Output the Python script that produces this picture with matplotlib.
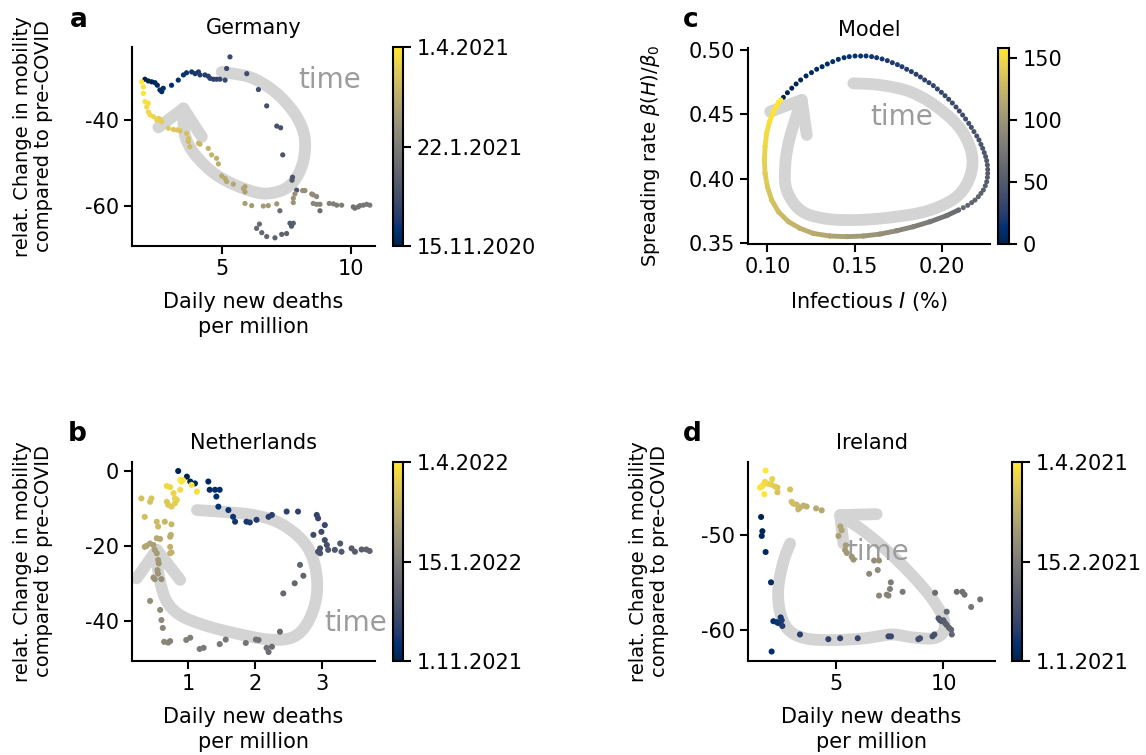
import numpy as np
import matplotlib
matplotlib.use('Agg')
import matplotlib.pyplot as plt
from matplotlib.collections import LineCollection
from matplotlib.colors import Normalize
from matplotlib.cm import ScalarMappable
from datetime import date

plt.rcParams['font.family'] = ['DejaVu Sans']
plt.rcParams['font.size'] = 15
plt.rcParams['mathtext.fontset'] = 'dejavusans'
plt.rcParams['axes.unicode_minus'] = False

# --- a: Germany (points in time order) ---
ger_x = [2.03, 2.16, 2.29, 2.42, 2.51, 2.61, 2.68, 2.74, 3.06, 3.32, 3.52, 3.64, 3.84, 3.97, 4.10, 4.16, 4.35,
         4.48, 4.55, 4.68, 4.80, 4.93, 5.13, 5.19, 5.32, 5.97, 6.42, 6.74, 7.13, 7.28, 7.36, 7.74, 7.72, 7.90,
         7.64, 7.70, 7.77, 7.51, 7.32, 7.06, 6.74, 6.55, 6.35, 6.46, 7.25, 8.80,
         10.09, 10.15, 10.28, 10.35, 10.48, 10.61, 10.73, 9.64, 9.45, 9.32, 9.16, 8.80, 8.67, 8.54,
         8.67, 8.54, 8.48, 8.22, 8.13, 7.83, 7.77, 7.77, 7.13, 6.80, 6.61, 6.16, 5.90, 5.90, 5.84, 5.90,
         5.45, 5.19, 5.13, 5.00, 4.87, 4.80, 4.61, 4.48, 4.16, 4.10, 3.77, 3.71, 3.71, 3.64, 3.39, 3.26,
         3.13, 2.94, 2.68, 2.61, 2.55, 2.49, 2.36, 2.23, 2.16, 2.10, 2.16, 2.03, 1.97, 1.97, 1.90]
ger_y = [-30.5, -30.9, -31.1, -31.3, -31.9, -33.0, -33.4, -32.6, -31.9, -30.7, -29.5, -29.0, -28.8, -29.2,
         -28.8, -29.5, -29.5, -29.8, -30.3, -30.5, -30.5, -30.5, -30.7, -28.0, -25.3, -29.2, -32.9, -36.7,
         -41.4, -41.8, -48.1, -53.3, -54.0, -56.3,
         -64.0, -64.7, -64.0, -66.4, -66.6, -67.4, -67.1, -66.2, -65.2, -64.2, -61.1, -61.1,
         -60.2, -60.5, -60.2, -59.9, -59.8, -59.6, -59.8, -59.8, -59.8, -59.5, -59.4, -59.6, -59.6, -59.4,
         -57.8, -57.4, -57.2, -56.4, -56.4, -57.2, -58.2, -59.2, -59.5, -59.9, -60.0, -59.9, -59.4, -56.7,
         -55.9, -55.5, -54.9, -54.3, -53.6, -53.0, -50.2, -48.9, -48.1, -46.6, -45.6, -45.4, -46.2, -45.0,
         -44.3, -43.1, -42.5, -42.3, -42.2, -41.9, -40.4, -39.8, -39.6, -40.0, -39.2, -38.8, -38.1, -36.9,
         -36.1, -35.7, -33.8, -32.3, -31.1]
ger_dates = [date(2020, 11, 15), date(2021, 1, 22), date(2021, 4, 1)]

# --- b: Netherlands ---
nl_x = [0.85, 0.98, 1.03, 1.10, 1.30, 1.32, 1.40, 1.47, 1.42, 1.45, 1.60, 1.67, 1.70, 1.87, 1.92, 2.02, 2.20,
        2.25, 2.47, 2.64, 2.92, 2.94, 3.04, 2.99, 2.87, 3.04, 3.07, 2.97, 2.94, 2.97, 3.09, 3.19, 3.27, 3.29,
        3.44, 3.49, 3.59, 3.66, 3.71,
        2.67, 2.72, 2.59, 2.42, 2.37, 2.25, 2.20, 2.17, 2.05, 2.01, 1.86, 1.56, 1.47, 1.23, 1.17, 1.03, 0.97,
        0.73, 0.70, 0.64, 0.62, 0.60, 0.58, 0.43, 0.60, 0.50, 0.48, 0.55, 0.54, 0.56, 0.55, 0.53, 0.50,
        0.48, 0.43, 0.38, 0.35, 0.53, 0.58, 0.73, 0.74, 0.73, 0.75, 0.73, 0.75, 0.65, 0.55, 0.53, 0.35,
        0.30, 0.43, 0.45, 0.68, 0.70, 0.75, 0.80, 0.83, 0.80, 0.78, 0.73, 0.68, 0.88, 1.13, 1.05, 0.90,
        0.92, 0.88]
nl_y = [-0.1, -1.6, -2.9, -3.4, -2.9, -5.1, -5.1, -5.1, -6.9, -9.6, -10.5, -12.3, -13.6, -13.6, -13.8,
        -13.1, -12.3, -11.8, -10.9, -10.9, -11.8, -12.7, -14.5, -16.3, -17.1, -18.5, -19.8, -20.7, -21.6,
        -22.0, -21.1, -21.1, -19.4, -21.6, -20.7, -21.6, -21.0, -21.0, -21.4,
        -25.1, -28.0, -30.0, -32.7, -42.9, -46.9, -48.3, -47.2, -45.1, -45.0, -45.9, -45.0, -46.2, -47.2,
        -47.5, -44.5, -45.1, -45.4, -45.8, -45.6, -41.9, -39.8, -37.1, -34.7, -28.9, -28.9, -28.5, -27.4,
        -26.5, -24.7, -23.8, -22.0, -21.1,
        -19.8, -19.4, -20.0, -20.3, -18.0, -18.2, -17.6, -17.1, -20.3, -21.8, -22.0, -14.3, -13.6, -14.9,
        -13.6, -12.3, -7.4, -8.3, -7.4, -8.3, -9.1, -9.6, -8.7, -7.8, -7.4, -6.0, -4.4, -4.1, -5.1, -5.6,
        -3.8, -2.9, -2.5, -2.5]
nl_dates = [date(2021, 11, 1), date(2022, 1, 15), date(2022, 4, 1)]

# --- c: Model (day, infectious %, spreading rate) ---
model_t = list(range(0, 63)) + [63, 70, 77, 84, 90, 96, 102, 107, 112, 117, 121, 125, 129, 133, 137,
                                 141, 144, 147, 150, 153, 155, 157, 158]
model_I = [0.1092, 0.1115, 0.1140, 0.1165, 0.1191, 0.1222, 0.1253, 0.1283, 0.1314, 0.1344, 0.1375, 0.1407,
           0.1440, 0.1470, 0.1503, 0.1535, 0.1566, 0.1598, 0.1627, 0.1658, 0.1688, 0.1717, 0.1746, 0.1772,
           0.1799, 0.1826, 0.1853, 0.1878, 0.1902, 0.1927, 0.1952, 0.1975, 0.1998, 0.2019, 0.2040, 0.2061,
           0.2082, 0.2101, 0.2120, 0.2137, 0.2155, 0.2170, 0.2185, 0.2201, 0.2214, 0.2225, 0.2235, 0.2244,
           0.2252, 0.2258, 0.2262, 0.2264, 0.2264, 0.2262, 0.2258, 0.2250, 0.2239, 0.2225, 0.2210, 0.2191,
           0.2172, 0.2149, 0.2124,
           0.2097, 0.2028, 0.1933, 0.1837, 0.1742, 0.1646, 0.1551, 0.1455, 0.1359, 0.1264, 0.1188, 0.1121,
           0.1063, 0.1025, 0.1000, 0.0987, 0.0983, 0.0987, 0.0996, 0.1012, 0.1035, 0.1063, 0.1077]
model_b = [0.4633, 0.4669, 0.4704, 0.4737, 0.4768, 0.4799, 0.4825, 0.4851, 0.4871, 0.4892, 0.4910, 0.4928,
           0.4941, 0.4949, 0.4954, 0.4954, 0.4954, 0.4949, 0.4941, 0.4931, 0.4918, 0.4902, 0.4887, 0.4871,
           0.4851, 0.4833, 0.4812, 0.4791, 0.4768, 0.4747, 0.4724, 0.4698, 0.4672, 0.4646, 0.4618, 0.4589,
           0.4558, 0.4527, 0.4496, 0.4465, 0.4431, 0.4400, 0.4367, 0.4333, 0.4302, 0.4268, 0.4237, 0.4204,
           0.4173, 0.4142, 0.4108, 0.4074, 0.4043, 0.4012, 0.3978, 0.3947, 0.3914, 0.3888, 0.3862, 0.3836,
           0.3816, 0.3795, 0.3777,
           0.3759, 0.3715, 0.3668, 0.3629, 0.3598, 0.3572, 0.3557, 0.3552, 0.3557, 0.3577, 0.3616, 0.3668,
           0.3746, 0.3836, 0.3940, 0.4043, 0.4147, 0.4250, 0.4354, 0.4444, 0.4522, 0.4592, 0.4613]

# --- d: Ireland ---
irl_x = [1.51, 1.57, 1.54, 1.72, 1.97, 2.00, 2.08, 2.24, 2.31, 2.42, 2.47, 2.50, 3.32, 4.64, 5.19, 6.01,
         7.44, 7.56, 8.83, 8.91, 9.49, 9.58,
         9.77, 9.84, 9.92, 10.00, 10.08, 10.15, 10.26, 10.36, 10.39, 10.15, 9.61,
         10.62, 10.88, 10.98, 11.71, 11.29, 8.10, 7.55, 7.51, 7.36, 7.44, 7.00, 6.54, 6.94, 6.77, 7.00,
         5.81, 5.73, 5.50, 5.42, 5.45,
         5.11, 5.26, 5.20, 4.33, 4.07, 3.63, 3.48, 3.32, 3.24, 3.17, 3.01, 2.93, 2.86,
         2.27, 2.27, 2.16, 2.00, 2.03, 1.85, 1.69, 1.61, 1.54, 1.46, 1.66, 1.72]
irl_y = [-48.1, -49.6, -50.1, -51.8, -55.0, -62.3, -59.1, -59.2, -59.3, -58.7, -59.0, -59.6, -60.5, -61.0,
         -60.9, -60.9, -60.7, -60.7, -61.0, -60.9, -60.7, -60.5,
         -58.8, -59.0, -59.1, -59.0, -59.3, -59.5, -59.8, -60.0, -60.5, -58.1, -56.1,
         -56.0, -56.0, -56.3, -56.8, -57.6, -56.0, -55.0, -55.7, -56.3, -56.4, -56.4, -54.1, -53.7, -52.7,
         -52.7,
         -52.6, -52.3, -51.9, -51.6, -51.1,
         -50.1, -49.5, -49.1, -47.4, -47.2, -47.0, -46.9, -47.1, -47.3, -46.8, -46.7, -46.5, -45.2,
         -45.5, -45.0, -44.9, -44.7, -44.1, -44.6, -44.4, -44.7, -44.9, -45.0, -45.7, -43.2]
irl_dates = [date(2021, 1, 1), date(2021, 2, 15), date(2021, 4, 1)]

W, H = 1146, 755
ARROW_C = '#d4d4d4'
TEXT_C = '#9c9c9c'


def rect(l, t, r, b):
    return [l / W, 1 - b / H, (r - l) / W, (b - t) / H]


def smooth(xs, ys, n=16):
    # catmull-rom through the guide points of the hand drawn arrow
    p = np.column_stack([xs, ys]).astype(float)
    p = np.vstack([p[0], p, p[-1]])
    out = []
    for i in range(1, len(p) - 2):
        p0, p1, p2, p3 = p[i - 1], p[i], p[i + 1], p[i + 2]
        for s in np.linspace(0, 1, n, endpoint=False):
            out.append(0.5 * (2 * p1 + (p2 - p0) * s + (2 * p0 - 5 * p1 + 4 * p2 - p3) * s ** 2
                              + (3 * p1 - p0 - 3 * p2 + p3) * s ** 3))
    out.append(p[-2])
    out = np.array(out)
    return out[:, 0], out[:, 1]


def time_arrow(ax, px, py, hx, hy, tx, ty):
    sx, sy = smooth(px, py)
    ax.plot(sx, sy, color=ARROW_C, lw=8.5, solid_capstyle='round', solid_joinstyle='round', zorder=1)
    ax.plot(hx, hy, color=ARROW_C, lw=8.5, solid_capstyle='round', solid_joinstyle='round', zorder=1)
    ax.text(tx, ty, 'time', fontsize=20, color=TEXT_C, ha='center', va='center', zorder=2)


def style(ax):
    for s in ['top', 'right']:
        ax.spines[s].set_visible(False)
    for s in ['left', 'bottom']:
        ax.spines[s].set_linewidth(1.5)
    ax.tick_params(length=6, width=1.5, labelsize=15)


def labels(ax, xl, yl, ylab_x, ylab_y=0.5):
    ax.set_xlabel(xl, linespacing=1.35, labelpad=9)
    ax.set_ylabel(yl, fontsize=14, linespacing=1.15)
    ax.yaxis.set_label_coords(ylab_x, ylab_y)


def date_cbar(fig, box, dates):
    cax = fig.add_axes(box)
    sm = ScalarMappable(norm=Normalize(0, 1), cmap='cividis')
    cb = fig.colorbar(sm, cax=cax)
    span = (dates[-1] - dates[0]).days
    cb.set_ticks([(d - dates[0]).days / span for d in dates])
    cb.set_ticklabels([f'{d.day}.{d.month}.{d.year}' for d in dates])
    cb.outline.set_linewidth(1.5)
    cax.tick_params(length=6, width=1.5, labelsize=15)
    return cb


fig = plt.figure(figsize=(W / 100, H / 100), dpi=100)

ylab = 'relat. Change in mobility\ncompared to pre-COVID'
xlab = 'Daily new deaths\nper million'

# panel a
ax = fig.add_axes(rect(132, 47, 375, 246))
style(ax)
time_arrow(ax, [5.00, 5.45, 6.22, 7.13, 7.90, 8.22, 8.09, 7.58, 6.74, 5.84, 4.80, 4.03, 3.64, 3.52, 3.52],
           [-28.8, -29.2, -30.3, -33.8, -39.2, -44.7, -50.9, -55.5, -57.1, -55.9, -52.8, -48.5, -44.7, -40.8, -37.3],
           [2.55, 3.52, 4.23], [-41.7, -37.3, -43.9], 9.19, -30.7)
ax.scatter(ger_x, ger_y, c=np.linspace(0, 1, len(ger_x)), cmap='cividis', s=14, linewidths=0, zorder=3)
ax.set_xlim(1.53, 10.93)
ax.set_ylim(-69.3, -23.0)
ax.set_xticks([5, 10])
ax.set_yticks([-60, -40])
ax.set_title('Germany', fontsize=15, pad=9)
labels(ax, xlab, ylab, -0.325, 0.55)
date_cbar(fig, rect(393, 47, 403, 246), ger_dates)

# panel b
ax = fig.add_axes(rect(132, 462, 375, 661))
style(ax)
time_arrow(ax, [1.13, 1.47, 1.97, 2.37, 2.72, 2.89, 2.92, 2.79, 2.57, 2.22, 1.72, 1.23, 0.88, 0.68, 0.58, 0.54, 0.53],
           [-10.5, -10.9, -11.8, -14.0, -18.9, -25.1, -33.1, -40.3, -44.3, -45.0, -43.4, -41.1, -38.5, -34.9,
            -29.6, -25.1, -21.1],
           [0.23, 0.53, 0.88], [-28.7, -21.1, -29.1], 3.50, -40.6)
ax.scatter(nl_x, nl_y, c=np.linspace(0, 1, len(nl_x)), cmap='cividis', s=19, linewidths=0, zorder=3)
ax.set_xlim(0.16, 3.79)
ax.set_ylim(-50.7, 2.3)
ax.set_xticks([1, 2, 3])
ax.set_yticks([-40, -20, 0])
ax.set_title('Netherlands', fontsize=15, pad=9)
labels(ax, xlab, ylab, -0.325, 0.5)
date_cbar(fig, rect(393, 462, 403, 661), nl_dates)

# panel c
ax = fig.add_axes(rect(748, 48, 990, 244))
style(ax)
time_arrow(ax, [0.1493, 0.1646, 0.1818, 0.1971, 0.2105, 0.2172, 0.2162, 0.2086, 0.1933, 0.1742, 0.1512,
                0.1321, 0.1188, 0.1111, 0.1102, 0.1121, 0.1159, 0.1197],
           [0.4742, 0.4729, 0.4677, 0.4561, 0.4393, 0.4198, 0.4017, 0.3862, 0.3758, 0.3707, 0.3681,
            0.3694, 0.3759, 0.3914, 0.4095, 0.4276, 0.4457, 0.4613],
           [0.1016, 0.1197, 0.1226], [0.4522, 0.4613, 0.4341], 0.1771, 0.4481)
t = np.array(model_t, dtype=float)
mi = np.array(model_I)
mb = np.array(model_b)
norm_c = Normalize(0, 158)
dense = t >= 63
pts = np.column_stack([mi[dense], mb[dense]])
segs = np.stack([pts[:-1], pts[1:]], axis=1)
lc = LineCollection(segs, cmap='cividis', norm=norm_c, linewidths=3.5, capstyle='round', zorder=3)
lc.set_array(0.5 * (t[dense][:-1] + t[dense][1:]))
ax.add_collection(lc)
ax.scatter(mi, mb, c=t, cmap='cividis', norm=norm_c, s=13, linewidths=0, zorder=3)
ax.set_xlim(0.0889, 0.2277)
ax.set_ylim(0.3495, 0.5016)
ax.set_xticks([0.10, 0.15, 0.20])
ax.set_xticklabels(['0.10', '0.15', '0.20'])
ax.set_yticks([0.35, 0.40, 0.45, 0.50])
ax.set_yticklabels(['0.35', '0.40', '0.45', '0.50'])
ax.set_title('Model', fontsize=15, pad=9)
labels(ax, 'Infectious $I$ (%)', r'Spreading rate $\beta(H)/\beta_0$', -0.355, 0.45)
cax = fig.add_axes(rect(998, 48, 1009, 244))
cb = fig.colorbar(ScalarMappable(norm=norm_c, cmap='cividis'), cax=cax)
cb.set_ticks([0, 50, 100, 150])
cb.outline.set_linewidth(1.5)
cax.tick_params(length=6, width=1.5, labelsize=15)

# panel d
ax = fig.add_axes(rect(748, 462, 995, 661))
style(ax)
time_arrow(ax, [2.86, 2.55, 2.31, 2.39, 2.78, 3.56, 4.80, 6.35, 7.59, 8.52, 9.53, 10.00, 10.00, 9.46, 8.52,
                7.44, 6.35, 5.19],
           [-50.9, -52.8, -55.6, -58.1, -60.0, -60.9, -61.1, -60.9, -60.5, -60.8, -60.9, -60.2, -58.8, -56.7,
            -54.2, -51.8, -49.7, -47.9],
           [6.89, 5.19, 5.34], [-47.8, -47.9, -50.9], 6.93, -51.8)
ax.scatter(irl_x, irl_y, c=np.linspace(0, 1, len(irl_x)), cmap='cividis', s=19, linewidths=0, zorder=3)
ax.set_xlim(0.90, 12.40)
ax.set_ylim(-63.3, -42.3)
ax.set_xticks([5, 10])
ax.set_yticks([-60, -50])
ax.set_title('Ireland', fontsize=15, pad=9)
labels(ax, xlab, ylab, -0.32, 0.5)
date_cbar(fig, rect(1012, 462, 1022, 661), irl_dates)

for lab, x, y in [('a', 70, 27), ('b', 68, 441), ('c', 683, 27), ('d', 683, 441)]:
    fig.text(x / W, 1 - y / H, lab, fontsize=19, fontweight='bold', va='baseline', ha='left')

fig.savefig('out.png', dpi=100)
